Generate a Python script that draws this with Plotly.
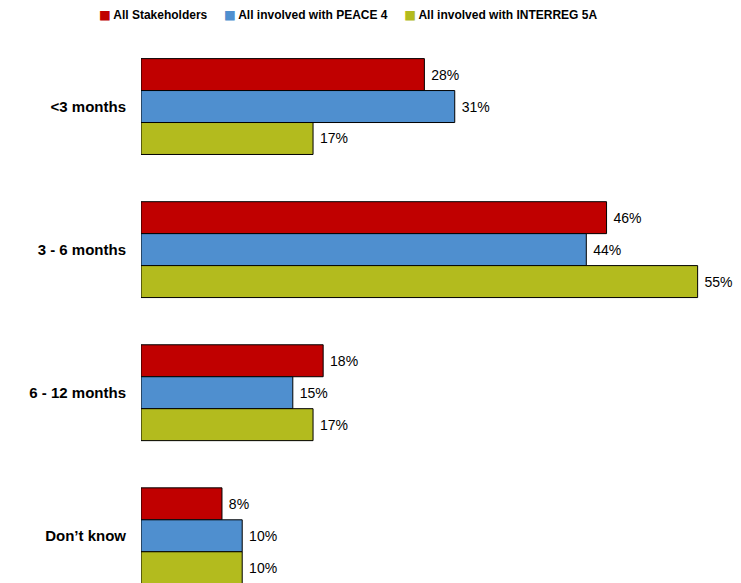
import plotly.graph_objects as go

categories = ["<3 months", "3 - 6 months", "6 - 12 months", "Don\u2019t know"]
series_names = ["All Stakeholders", "All involved with PEACE 4", "All involved with INTERREG 5A"]
all_stakeholders = [28, 46, 18, 8]
peace4 = [31, 44, 15, 10]
interreg5a = [17, 55, 17, 10]
colors = ["#C00000", "#4F8FCF", "#B3BB1E"]

FONT = "Liberation Sans, Arial, sans-serif"

fig = go.Figure()
for name, vals, col in zip(series_names, [all_stakeholders, peace4, interreg5a], colors):
    fig.add_trace(go.Bar(
        y=categories, x=vals, name=name, orientation="h",
        marker=dict(color=col, line=dict(color="#000000", width=1)),
        text=[f"\u00a0{v}%" for v in vals], textposition="outside",
        textfont=dict(family=FONT, size=14, color="#000000"),
        cliponaxis=False, showlegend=False,
    ))

# compact legend row drawn as a single line of text
legend_parts = []
for name, col in zip(series_names, colors):
    legend_parts.append(
        f"<span style='color:{col};font-size:12.5px;font-family:DejaVu Sans'>\u25a0</span>"
        f"\u2009<b>{name}</b>"
    )
legend_text = "\u00a0\u00a0\u00a0\u00a0\u00a0".join(legend_parts)

fig.update_layout(
    width=741, height=583,
    margin=dict(l=141, r=13, t=35, b=0),
    paper_bgcolor="white", plot_bgcolor="white",
    barmode="group", bargap=0.33, bargroupgap=0,
    font=dict(family=FONT, color="#000000"),
    showlegend=False,
    annotations=[dict(
        text=legend_text, xref="paper", yref="paper",
        x=(347.5 - 141) / 587, y=1 + (35 - 14) / 548,
        xanchor="center", yanchor="middle", showarrow=False,
        font=dict(family=FONT, size=12, color="#000000"),
    )],
)
fig.update_xaxes(range=[0, 58], visible=False)
fig.update_yaxes(
    categoryorder="array", categoryarray=categories,
    range=[3.33, -0.5], showgrid=False, showline=False, zeroline=False,
    ticks="", ticklabelstandoff=14,
    tickfont=dict(family=FONT, size=15, weight="bold", color="#000000"),
)

fig.write_html("out.html")
